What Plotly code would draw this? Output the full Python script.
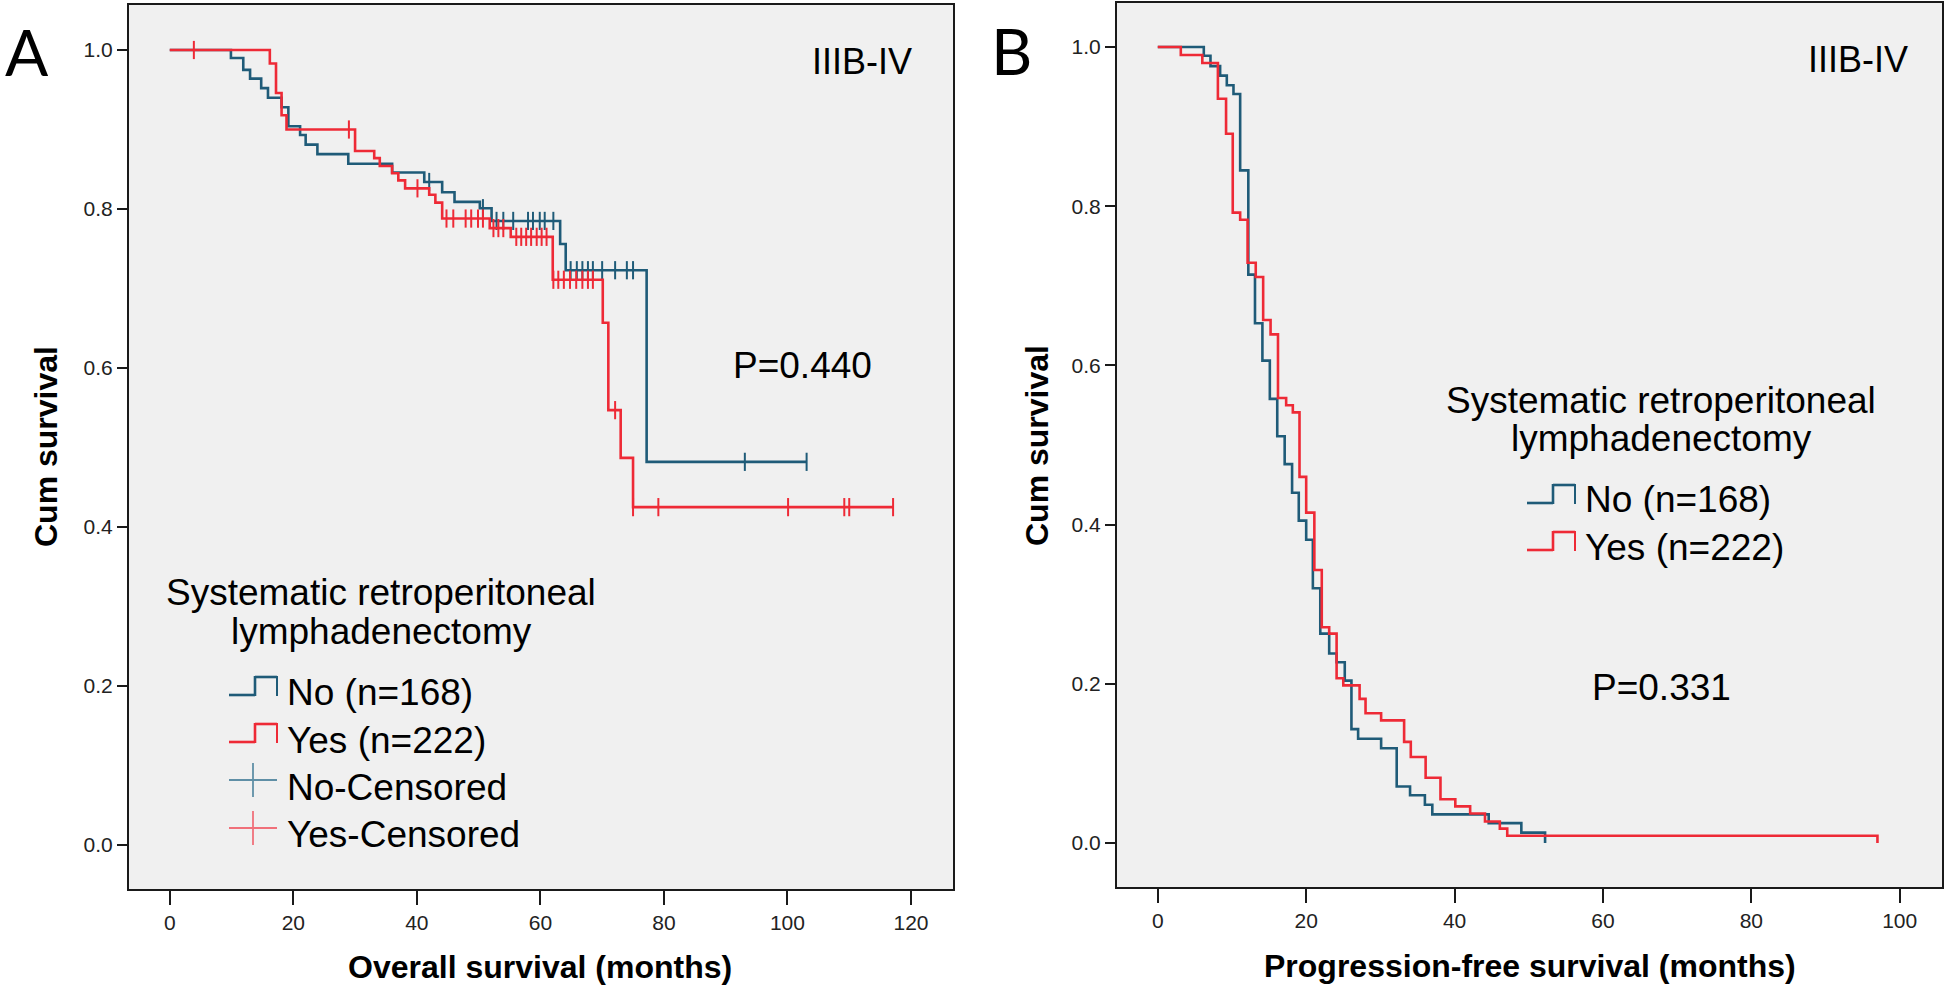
import plotly.graph_objects as go

W, H = 1946, 985

# ---------------- Data: Panel A (overall survival, months) ----------------
a_no_times = [0, 9.9, 11.9, 13.0, 14.8, 15.9, 18.1, 19.2, 21.1, 22.0, 23.9, 28.9,
              36.0, 41.2, 44.1, 46.1, 50.2, 52.1, 63.2, 64.1, 77.2]
a_no_surv = [1.0, 0.990, 0.975, 0.964, 0.952, 0.940, 0.928, 0.904, 0.893, 0.881,
             0.869, 0.857, 0.846, 0.834, 0.821, 0.809, 0.801, 0.785, 0.756, 0.723, 0.482]
a_no_censored = [42.0, 50.7, 52.9, 54.0, 55.6, 58.0, 58.8, 59.9, 60.7, 62.1, 64.9,
                 65.9, 66.8, 67.7, 68.5, 70.0, 72.1, 74.0, 75.0, 93.1, 103.1]

a_yes_times = [0, 16.2, 17.2, 18.1, 18.9, 30.0, 33.1, 34.0, 36.0, 37.0, 38.1, 42.0,
               43.0, 44.1, 51.8, 55.2, 62.0, 70.1, 71.0, 73.0, 75.0]
a_yes_surv = [1.0, 0.983, 0.946, 0.918, 0.900, 0.873, 0.864, 0.854, 0.845, 0.836,
              0.826, 0.818, 0.808, 0.788, 0.776, 0.765, 0.711, 0.657, 0.547, 0.487, 0.425]
a_yes_censored = [3.9, 29.0, 40.1, 44.8, 45.9, 47.9, 48.8, 49.9, 50.7, 52.4, 53.2,
                  54.0, 56.1, 56.9, 57.7, 58.5, 59.4, 60.2, 61.0, 62.1, 62.9, 63.8,
                  64.8, 65.8, 66.8, 67.7, 68.5, 72.1, 75.0, 79.1, 100.1, 109.2, 110.0, 117.1]

# ---------------- Data: Panel B (progression-free survival, months) ----------------
b_no_times = [0, 6.2, 7.1, 8.4, 9.3, 10.2, 11.1, 12.2, 13.1, 14.1, 15.1, 16.1, 17.1,
              18.1, 19.0, 20.0, 20.9, 21.9, 23.1, 24.1, 25.2, 26.1, 27.0, 30.1, 32.2,
              34.0, 36.0, 37.0, 44.6, 49.0, 52.2]
b_no_surv = [1.0, 0.989, 0.976, 0.964, 0.952, 0.941, 0.845, 0.714, 0.653, 0.606,
             0.558, 0.511, 0.476, 0.440, 0.405, 0.381, 0.320, 0.263, 0.238, 0.227,
             0.204, 0.143, 0.131, 0.119, 0.071, 0.060, 0.048, 0.036, 0.025, 0.013, 0.0]

b_yes_times = [0, 3.1, 6.0, 8.1, 9.2, 10.1, 11.1, 12.1, 13.2, 14.2, 15.2, 16.2, 17.3,
               18.2, 19.1, 20.0, 21.1, 22.1, 23.1, 24.1, 25.0, 27.2, 28.0, 30.1, 33.2,
               34.1, 36.1, 38.1, 40.1, 42.1, 44.1, 46.1, 47.1, 97.0]
b_yes_surv = [1.0, 0.990, 0.980, 0.935, 0.891, 0.792, 0.783, 0.729, 0.711, 0.657,
              0.639, 0.559, 0.550, 0.541, 0.460, 0.415, 0.343, 0.271, 0.263, 0.207,
              0.198, 0.181, 0.163, 0.154, 0.127, 0.108, 0.082, 0.055, 0.046, 0.037,
              0.027, 0.018, 0.009, 0.0]

a_xticks = [0, 20, 40, 60, 80, 100, 120]
b_xticks = [0, 20, 40, 60, 80, 100]
y_ticks = [0.0, 0.2, 0.4, 0.6, 0.8, 1.0]
y_ticklabels = ["0.0", "0.2", "0.4", "0.6", "0.8", "1.0"]

legend_title = ["Systematic retroperitoneal", "lymphadenectomy"]
legend_labels = ["No (n=168)", "Yes (n=222)", "No-Censored", "Yes-Censored"]

TEAL = "#1F5B78"
RED = "#EE2A36"
TEAL_L = "#5F8FA6"
RED_L = "#F0707A"
FONT = "Liberation Sans, Arial, sans-serif"


def surv_at(times, surv, t):
    val = surv[0]
    for ti, si in zip(times, surv):
        if ti <= t:
            val = si
        else:
            break
    return val


def curve(times, surv, censored, color, xa, ya):
    end = max([times[-1]] + list(censored))
    xs = list(times) + ([end] if end > times[-1] else [])
    ys = list(surv) + ([surv[-1]] if end > times[-1] else [])
    out = [go.Scatter(x=xs, y=ys, mode="lines", line=dict(color=color, width=2.6, shape="hv"),
                      xaxis=xa, yaxis=ya, showlegend=False, hoverinfo="skip")]
    if censored:
        out.append(go.Scatter(x=censored, y=[surv_at(times, surv, c) for c in censored],
                              mode="markers",
                              marker=dict(symbol="line-ns", size=13, line=dict(color=color, width=2)),
                              xaxis=xa, yaxis=ya, showlegend=False, hoverinfo="skip"))
    return out


fig = go.Figure()
for tr in curve(a_no_times, a_no_surv, a_no_censored, TEAL, "x", "y"):
    fig.add_trace(tr)
for tr in curve(a_yes_times, a_yes_surv, a_yes_censored, RED, "x", "y"):
    fig.add_trace(tr)
for tr in curve(b_no_times, b_no_surv, [], TEAL, "x2", "y2"):
    fig.add_trace(tr)
for tr in curve(b_yes_times, b_yes_surv, [], RED, "x2", "y2"):
    fig.add_trace(tr)


def px(x):
    return x / W


def py(y):
    return 1 - y / H


axis_common = dict(showline=True, linecolor="#1a1a1a", linewidth=2, mirror=True,
                   showgrid=False, zeroline=False, ticks="outside", tickwidth=2,
                   tickcolor="#1a1a1a", tickfont=dict(family=FONT, size=21, color="#222"))

fig.update_layout(
    width=W, height=H, margin=dict(l=0, r=0, t=0, b=0),
    paper_bgcolor="white", plot_bgcolor="#F0F0F0",
    xaxis=dict(domain=[px(129), px(953)], range=[-6.6, 126.8], anchor="y",
               tickvals=a_xticks, ticktext=[str(v) for v in a_xticks], ticklen=14, **axis_common),
    yaxis=dict(domain=[py(889), py(5)], range=[-0.0553, 1.0566], anchor="x",
               tickvals=y_ticks, ticktext=y_ticklabels, ticklen=10, **axis_common),
    xaxis2=dict(domain=[px(1117), px(1942)], range=[-5.5, 105.7], anchor="y2",
                tickvals=b_xticks, ticktext=[str(v) for v in b_xticks], ticklen=14, **axis_common),
    yaxis2=dict(domain=[py(887), py(3)], range=[-0.0553, 1.0553], anchor="x2",
                tickvals=y_ticks, ticktext=y_ticklabels, ticklen=10, **axis_common),
    showlegend=False,
)

ann = []


def text(x, y, s, size, bold=False, family=FONT, xanchor="center", angle=0):
    ann.append(dict(x=px(x), y=py(y), xref="paper", yref="paper", text=("<b>%s</b>" % s) if bold else s,
                    showarrow=False, xanchor=xanchor, yanchor="middle", textangle=angle,
                    font=dict(family=family, size=size, color="black")))


# panel letters
text(27, 52, "A", 64, family="Lato, Noto Sans, sans-serif")
text(1011, 50, "B", 64, family="Lato, Noto Sans, sans-serif")
# stage labels
text(862, 62, "IIIB-IV", 36)
text(1858, 59, "IIIB-IV", 36)
# p values
text(802, 365, "P=0.440", 37)
text(1661, 687, "P=0.331", 37)
# axis titles
text(540, 967, "Overall survival (months)", 32, bold=True)
text(1530, 966, "Progression-free survival (months)", 32, bold=True)
text(46, 447, "Cum survival", 32, bold=True, angle=-90)
text(1037, 446, "Cum survival", 32, bold=True, angle=-90)

# legend A
text(381, 592, legend_title[0], 37)
text(381, 631, legend_title[1], 37)
for lab, yc in zip(legend_labels, [692, 740, 787, 834]):
    text(285, yc, lab, 37, xanchor="left")
# legend B
text(1661, 400, legend_title[0], 37)
text(1661, 439, legend_title[1], 37)
for lab, yc in zip(legend_labels[:2], [499, 547]):
    text(1583, yc, lab, 37, xanchor="left")

shapes = []


def seg(x0, y0, x1, y1, color, width):
    shapes.append(dict(type="line", xref="paper", yref="paper", x0=px(x0), y0=py(y0),
                       x1=px(x1), y1=py(y1), line=dict(color=color, width=width)))


def step_symbol(x0, ylo, yhi, color):
    xm, x1 = x0 + 26, x0 + 48
    seg(x0, ylo, xm, ylo, color, 2.6)
    seg(xm, ylo + 1, xm, yhi - 1, color, 2.6)
    seg(xm, yhi, x1, yhi, color, 2.6)
    seg(x1, yhi - 1, x1, ylo + 1, color, 2.0)


def plus_symbol(x0, yc, color):
    seg(x0, yc, x0 + 48, yc, color, 1.8)
    seg(x0 + 24, yc - 17, x0 + 24, yc + 17, color, 1.8)


step_symbol(229, 695, 677, TEAL)
step_symbol(229, 742, 724, RED)
plus_symbol(229, 780, TEAL_L)
plus_symbol(229, 828, RED_L)
step_symbol(1527, 503, 485, TEAL)
step_symbol(1527, 550, 532, RED)

fig.update_layout(annotations=ann, shapes=shapes)

fig.write_html("out.html", config={"displayModeBar": False},
               post_script="document.body.style.margin='0';document.body.style.overflow='hidden';")
